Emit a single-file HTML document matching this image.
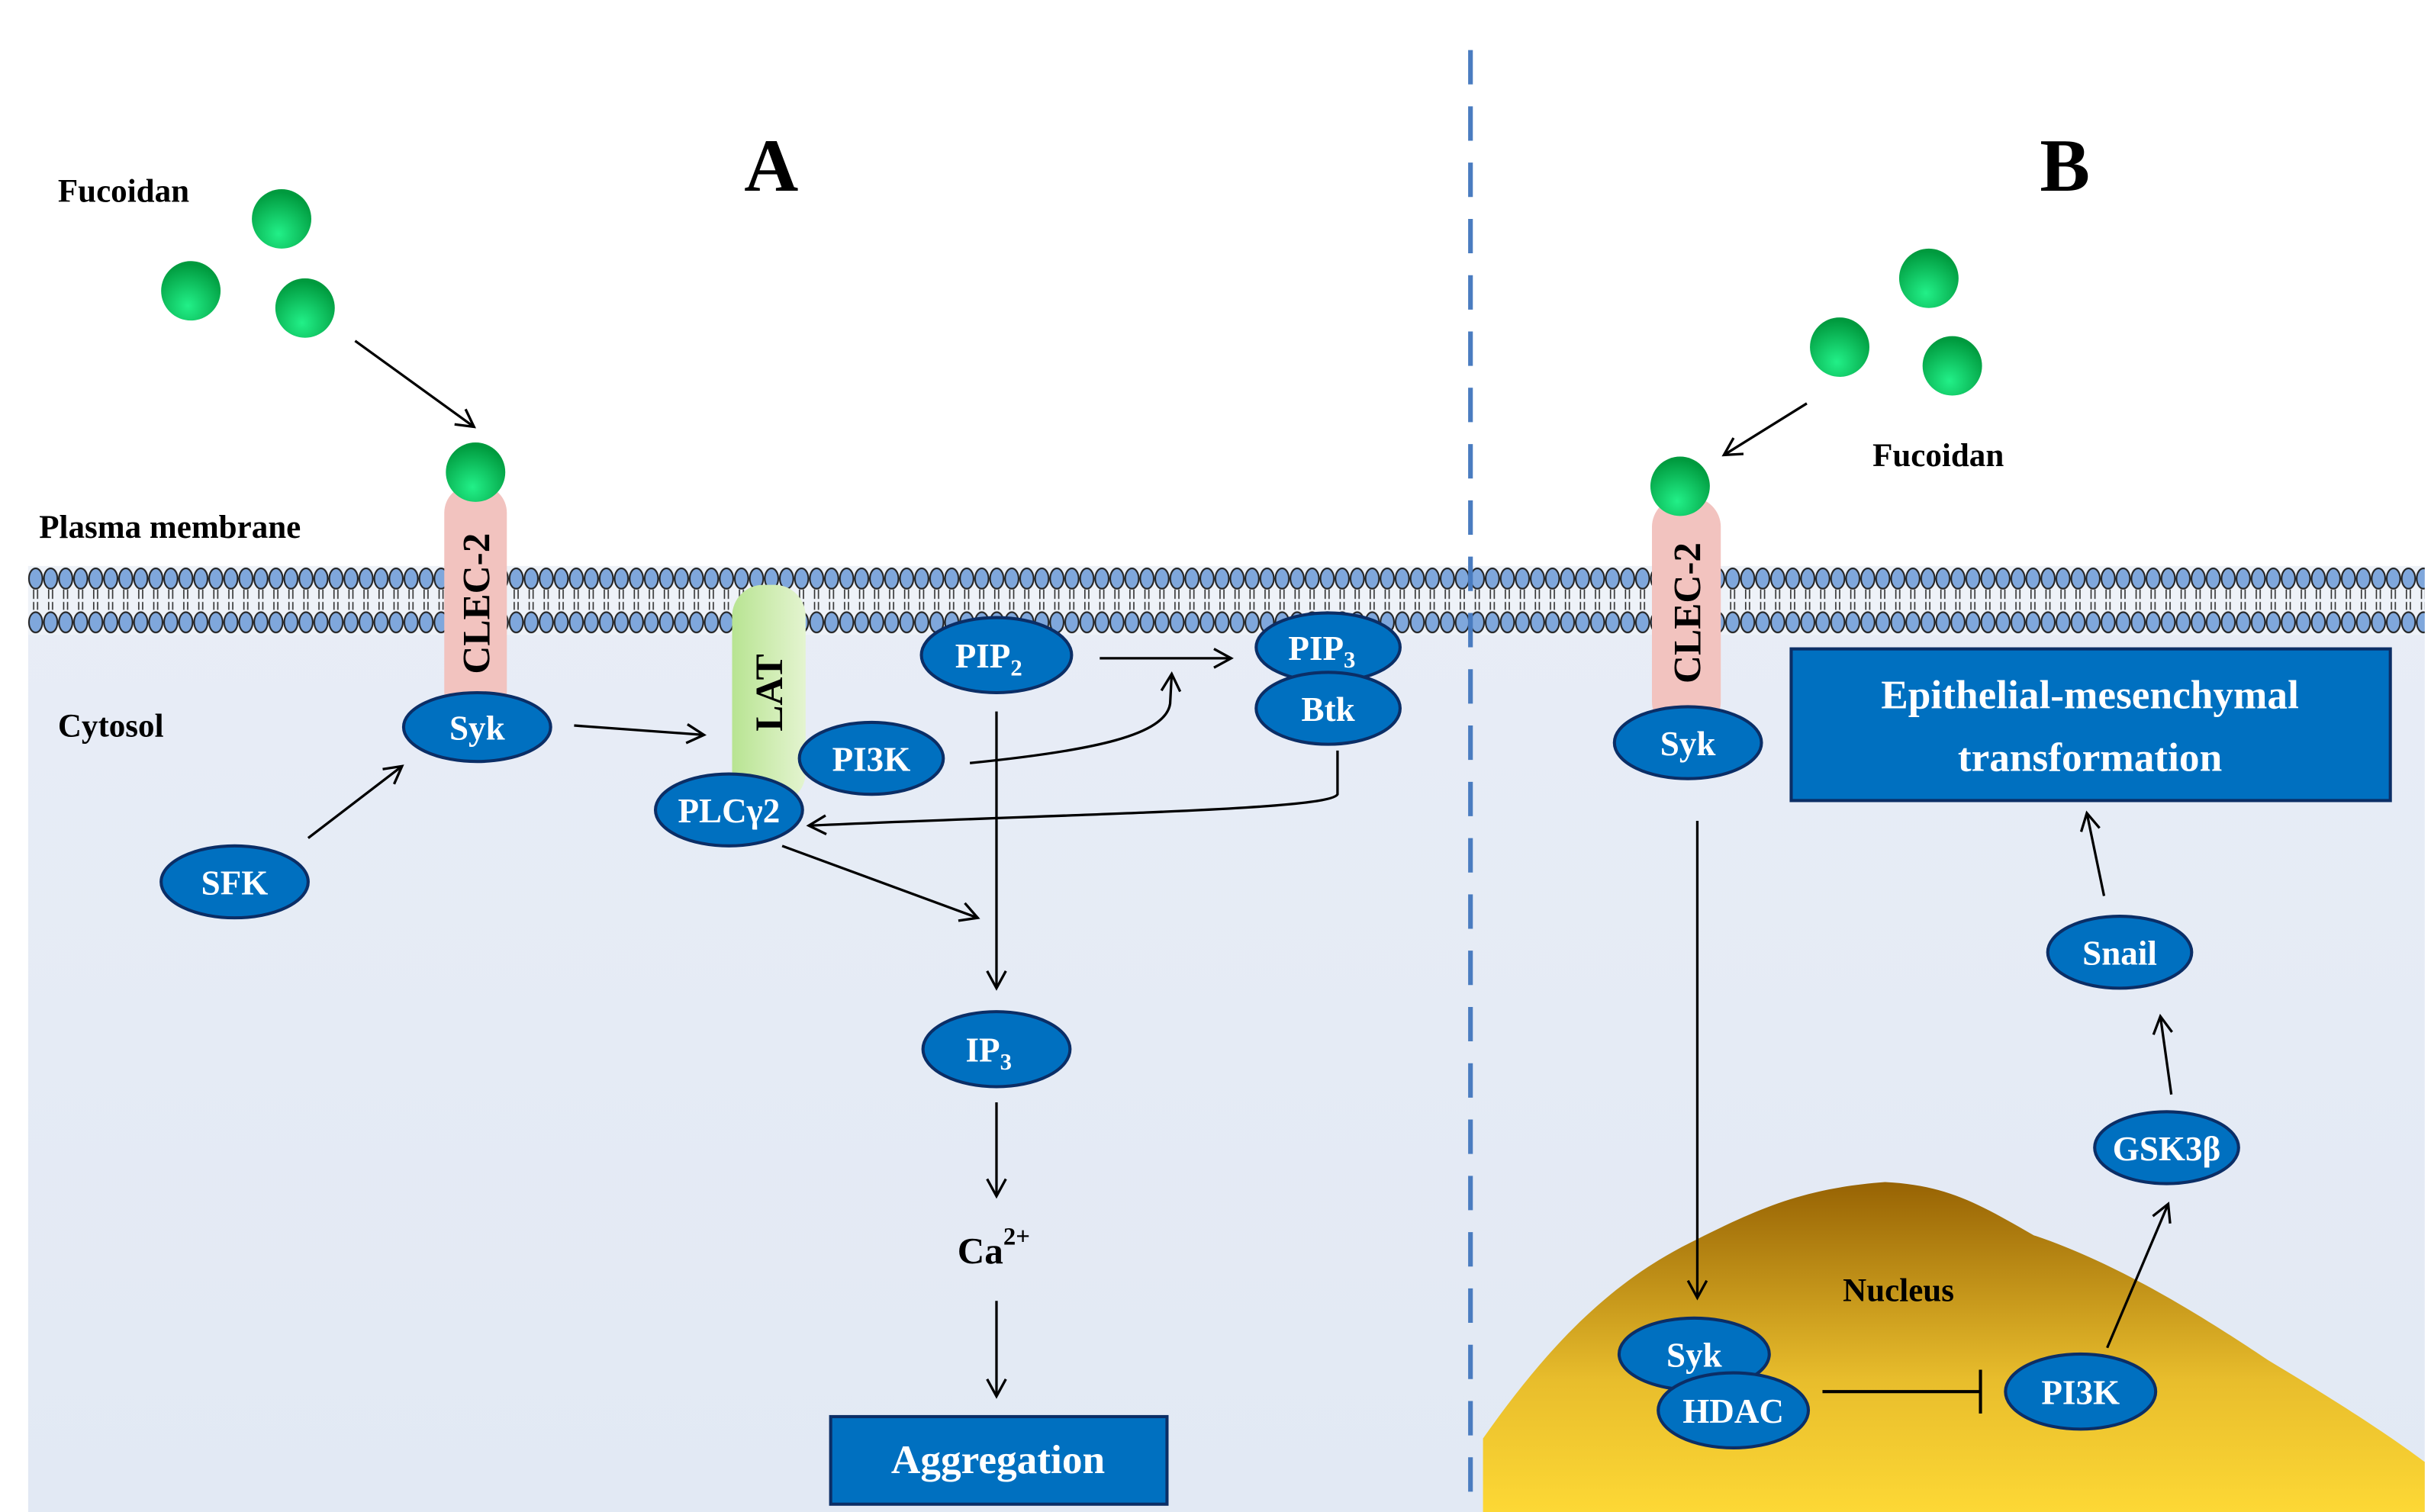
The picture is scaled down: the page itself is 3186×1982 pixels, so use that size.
<!DOCTYPE html>
<html><head><meta charset="utf-8"><style>
html,body{margin:0;padding:0;background:#fff;}
svg{display:block;}
text{font-family:"Liberation Serif",serif;font-weight:bold;}
.n{fill:#fff;font-size:22px;text-anchor:middle;}
.l{fill:#000;font-size:21px;}
</style></head><body>
<svg width="3186" height="1982" viewBox="0 0 1554 967" preserveAspectRatio="none" xmlns="http://www.w3.org/2000/svg">
<defs>
<linearGradient id="cy" x1="0" y1="0" x2="0" y2="1"><stop offset="0" stop-color="#e8edf6"/><stop offset="1" stop-color="#e2e9f4"/></linearGradient>
<linearGradient id="nu" x1="0" y1="0" x2="0" y2="1"><stop offset="0" stop-color="#976304"/><stop offset="0.6" stop-color="#e8bd2c"/><stop offset="1" stop-color="#fdd835"/></linearGradient>
<radialGradient id="gb" cx="0.45" cy="0.75" r="0.7"><stop offset="0" stop-color="#22f088"/><stop offset="1" stop-color="#009a3e"/></radialGradient>
<linearGradient id="lat" x1="0" y1="0" x2="1" y2="0"><stop offset="0" stop-color="#b8e492"/><stop offset="1" stop-color="#e4f4d0"/></linearGradient>
<pattern id="mem" x="18" y="362" width="9.6" height="44" patternUnits="userSpaceOnUse">
<rect x="0" y="0" width="9.6" height="44" fill="#eef2f8"/>
<ellipse cx="4.8" cy="8" rx="4.3" ry="6.5" fill="#7fa7dc" stroke="#222" stroke-width="1"/>
<path d="M3.5 15 v6 M6 15 v6 M3.5 23 v5 M6 23 v5" stroke="#333" stroke-width="0.8"/>
<ellipse cx="4.8" cy="36" rx="4.3" ry="6.5" fill="#7fa7dc" stroke="#222" stroke-width="1"/>
</pattern>
<marker id="a" markerWidth="14" markerHeight="14" refX="12" refY="7" orient="auto" markerUnits="userSpaceOnUse"><path d="M1 1 L12 7 L1 13" fill="none" stroke="#000" stroke-width="1.6"/></marker>
</defs>
<rect x="18" y="362" width="1532" height="605" fill="url(#cy)"/>
<rect x="18" y="362" width="1532" height="44" fill="url(#mem)"/>
<!-- divider -->
<line x1="940" y1="32" x2="940" y2="967" stroke="#4a7cc0" stroke-width="3" stroke-dasharray="22,14"/>
<!-- nucleus -->
<path d="M948 920 C990 860 1030 820 1080 795 C1120 775 1150 760 1205 756 C1245 758 1265 770 1300 790 C1360 810 1420 850 1450 870 C1500 900 1530 920 1550 935 L1550 967 L948 967 Z" fill="url(#nu)"/>
<text x="493" y="122" style="font-size:48px" text-anchor="middle">A</text>
<text x="1320" y="122" style="font-size:48px" text-anchor="middle">B</text>
<text class="l" x="37" y="129">Fucoidan</text>
<text class="l" x="25" y="344">Plasma membrane</text>
<text class="l" x="37" y="471">Cytosol</text>
<text class="l" x="1197" y="298">Fucoidan</text>
<text class="l" x="1178" y="832">Nucleus</text>
<g fill="url(#gb)">
<circle cx="180" cy="140" r="19"/><circle cx="122" cy="186" r="19"/><circle cx="195" cy="197" r="19"/>
<circle cx="1233" cy="178" r="19"/><circle cx="1176" cy="222" r="19"/><circle cx="1248" cy="234" r="19"/>
</g>
<rect x="284" y="310" width="40" height="150" rx="18" fill="#f2c3bf"/>
<circle cx="304" cy="302" r="19" fill="url(#gb)"/>
<text transform="translate(313,386) rotate(-90)" text-anchor="middle" style="font-size:25px">CLEC-2</text>
<rect x="468" y="374" width="47" height="140" rx="20" fill="url(#lat)"/>
<text transform="translate(500,443) rotate(-90)" text-anchor="middle" style="font-size:25px">LAT</text>
<rect x="1056" y="318" width="44" height="150" rx="19" fill="#f2c3bf"/>
<circle cx="1074" cy="311" r="19" fill="url(#gb)"/>
<text transform="translate(1087,392) rotate(-90)" text-anchor="middle" style="font-size:25px">CLEC-2</text>
<g fill="none" stroke="#000" stroke-width="1.6">
<line x1="227" y1="218" x2="303" y2="273" marker-end="url(#a)"/>
<line x1="367" y1="464" x2="450" y2="470" marker-end="url(#a)"/>
<line x1="197" y1="536" x2="257" y2="490" marker-end="url(#a)"/>
<line x1="703" y1="421" x2="787" y2="421" marker-end="url(#a)"/>
<path d="M620 488 C700 480 745 470 748 450 L749 431" marker-end="url(#a)"/>
<path d="M855 480 L855 508 C850 518 700 520 517 528" marker-end="url(#a)"/>
<line x1="500" y1="541" x2="625" y2="587" marker-end="url(#a)"/>
<line x1="637" y1="455" x2="637" y2="632" marker-end="url(#a)"/>
<line x1="637" y1="705" x2="637" y2="765" marker-end="url(#a)"/>
<line x1="637" y1="832" x2="637" y2="893" marker-end="url(#a)"/>
<line x1="1155" y1="258" x2="1102" y2="291" marker-end="url(#a)"/>
<line x1="1085" y1="525" x2="1085" y2="830" marker-end="url(#a)"/>
<line x1="1345" y1="573" x2="1334" y2="520" marker-end="url(#a)"/>
<line x1="1388" y1="700" x2="1381" y2="650" marker-end="url(#a)"/>
<line x1="1347" y1="862" x2="1386" y2="770" marker-end="url(#a)"/>
<line x1="1165" y1="890" x2="1265" y2="890" stroke-width="2"/>
<line x1="1266" y1="876" x2="1266" y2="904" stroke-width="2"/>
</g>
<g fill="#0070c0" stroke="#0b2e66" stroke-width="2">
<ellipse cx="305" cy="465" rx="47" ry="22"/>
<ellipse cx="150" cy="564" rx="47" ry="23"/>
<ellipse cx="557" cy="485" rx="46" ry="23"/>
<ellipse cx="466" cy="518" rx="47" ry="23"/>
<ellipse cx="637" cy="419" rx="48" ry="24"/>
<ellipse cx="849" cy="414" rx="46" ry="22"/>
<ellipse cx="849" cy="453" rx="46" ry="23"/>
<ellipse cx="637" cy="671" rx="47" ry="24"/>
<ellipse cx="1079" cy="475" rx="47" ry="23"/>
<ellipse cx="1355" cy="609" rx="46" ry="23"/>
<ellipse cx="1385" cy="734" rx="46" ry="23"/>
<ellipse cx="1083" cy="866" rx="48" ry="23"/>
<ellipse cx="1108" cy="902" rx="48" ry="24"/>
<ellipse cx="1330" cy="890" rx="48" ry="24"/>
<rect x="531" y="906" width="215" height="56"/>
<rect x="1145" y="415" width="383" height="97"/>
</g>
<g>
<text class="n" x="305" y="473">Syk</text>
<text class="n" x="150" y="572">SFK</text>
<text class="n" x="557" y="493">PI3K</text>
<text class="n" x="466" y="526">PLCγ2</text>
<text class="n" x="632" y="427">PIP<tspan style="font-size:15px" dy="5">2</tspan></text>
<text class="n" x="845" y="422">PIP<tspan style="font-size:15px" dy="5">3</tspan></text>
<text class="n" x="849" y="461">Btk</text>
<text class="n" x="632" y="679">IP<tspan style="font-size:15px" dy="5">3</tspan></text>
<text class="n" x="1079" y="483">Syk</text>
<text class="n" x="1355" y="617">Snail</text>
<text class="n" x="1385" y="742">GSK3β</text>
<text class="n" x="1083" y="874">Syk</text>
<text class="n" x="1108" y="910">HDAC</text>
<text class="n" x="1330" y="898">PI3K</text>
<text class="n" x="638" y="942" style="font-size:26px">Aggregation</text>
<text class="n" x="1336" y="453" style="font-size:26px">Epithelial-mesenchymal</text>
<text class="n" x="1336" y="493" style="font-size:26px">transformation</text>
</g>
<text x="612" y="808" style="font-size:24px">Ca<tspan style="font-size:16px" dy="-12">2+</tspan></text>
</svg>
</body></html>
